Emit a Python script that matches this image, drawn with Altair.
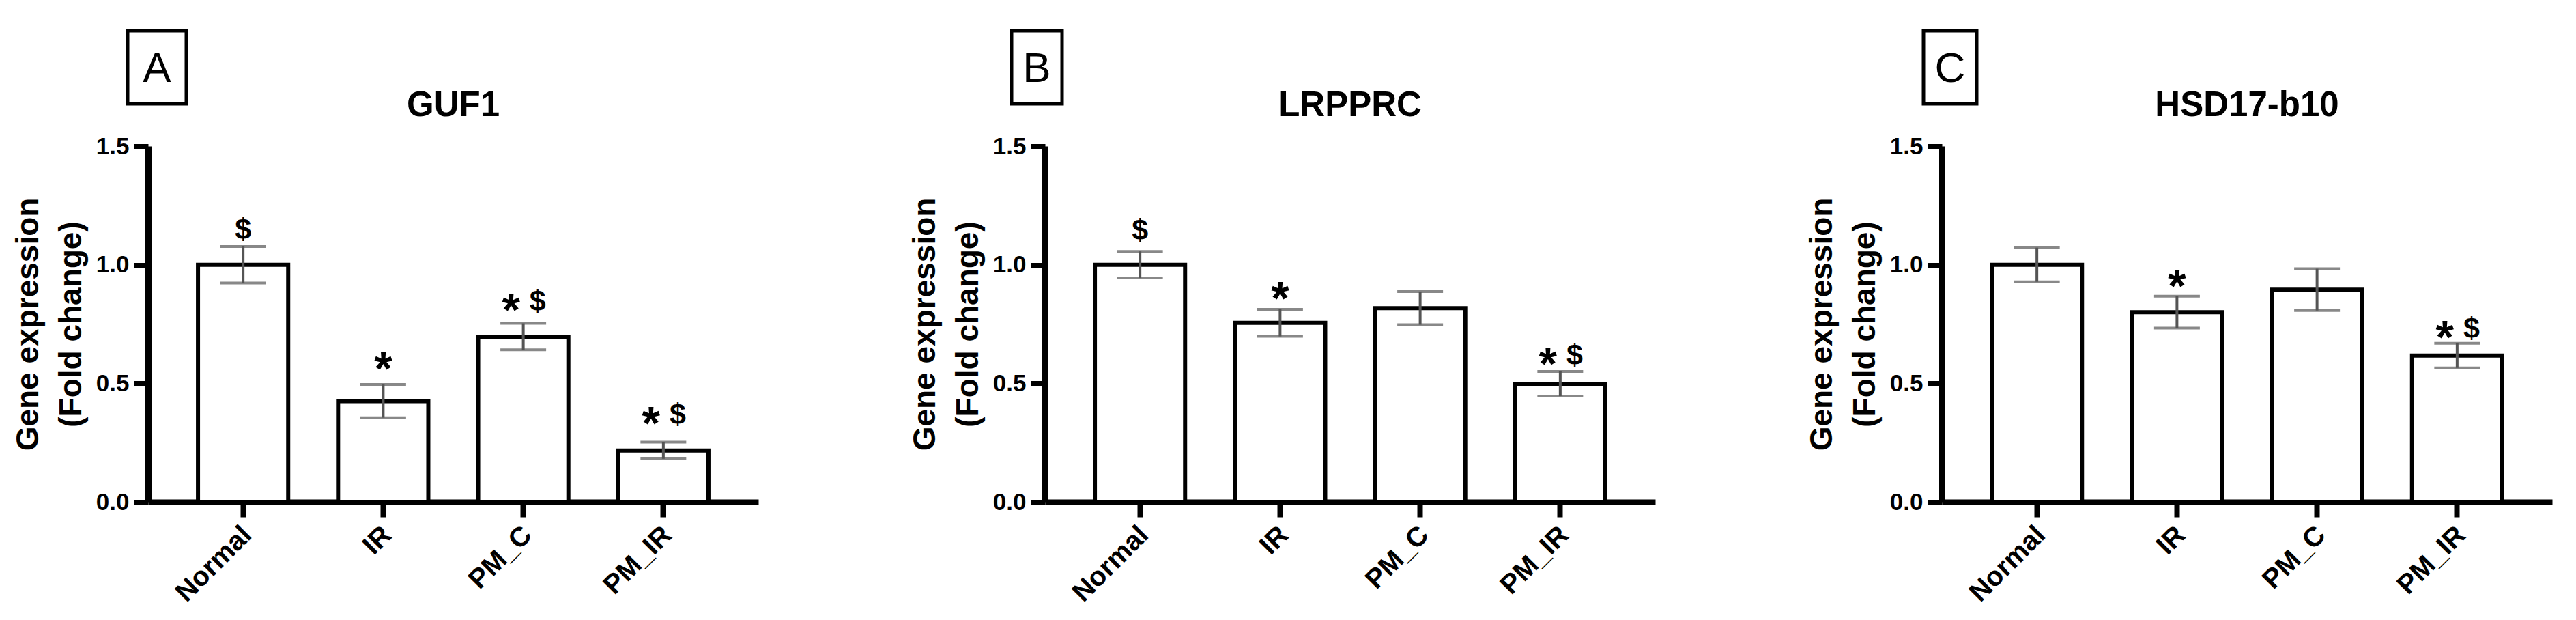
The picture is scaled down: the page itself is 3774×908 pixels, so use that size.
import altair as alt
import pandas as pd

# ---------------- data ----------------
groups = ["Normal", "IR", "PM_C", "PM_IR"]
genes = ["GUF1", "LRPPRC", "HSD17-b10"]
panel_letters = ["A", "B", "C"]

guf1_mean = [1.0, 0.425, 0.697, 0.217]
guf1_sem = [0.077, 0.070, 0.056, 0.035]
lrpprc_mean = [1.0, 0.755, 0.817, 0.498]
lrpprc_sem = [0.056, 0.057, 0.070, 0.052]
hsd_mean = [1.0, 0.800, 0.895, 0.617]
hsd_sem = [0.072, 0.067, 0.088, 0.052]

guf1_sig = ["$", "*", "* $", "* $"]
lrpprc_sig = ["$", "*", "", "* $"]
hsd_sig = ["", "*", "", "* $"]
guf1_sig_y = [1.153, 0.603, 0.85, 0.37]
lrpprc_sig_y = [1.15, 0.897, None, 0.622]
hsd_sig_y = [None, 0.95, None, 0.733]

y_ticks = [0.0, 0.5, 1.0, 1.5]
y_title = ["Gene expression", "(Fold change)"]

# ---------------- layout / style ----------------
W, H, SPACING = 894, 521, 420
FONT = "Liberation Sans, Arial, sans-serif"
ERR = "#555555"
box_x = [(-30, 56), (-49, 25), (-27, 51)]
BOX_Y = (-169, -62)


def panel(i, mean, sem, sig, sig_y):
    df = pd.DataFrame({"group": groups, "mean": mean, "sem": sem})
    df["lo"] = df["mean"] - df["sem"]
    df["hi"] = df["mean"] + df["sem"]

    xs = alt.Scale(domain=groups, paddingInner=0.356, paddingOuter=0.356)
    ys = alt.Scale(domain=[0, 1.5], nice=False, zero=True)

    x_axis = alt.Axis(title=None, labelAngle=-45, labelAlign="right",
                      labelBaseline="middle", labelPadding=20, labelOffset=6,
                      labelFontSize=40, tickSize=22, tickWidth=8, domainWidth=8)
    y_axis = alt.Axis(values=y_ticks, format=".1f", title=y_title,
                      titleX=-162, titleY=H / 2, titleBaseline="alphabetic",
                      titleAngle=-90, titleAlign="center", titleLineHeight=63,
                      titleFontSize=46, labelFontSize=35, labelPadding=7,
                      tickSize=21, tickWidth=7, domainWidth=9)

    def X():
        return alt.X("group:N", sort=groups, scale=xs, axis=x_axis)

    def Y(field):
        return alt.Y(field, scale=ys, axis=y_axis)

    base = alt.Chart(df)
    bars = base.mark_bar(fill="white", stroke="black", strokeWidth=6).encode(
        x=X(), y=Y("mean:Q"))
    rule = base.mark_rule(color=ERR, strokeWidth=4).encode(
        x=X(), y=Y("lo:Q"), y2="hi:Q")
    cap_lo = base.mark_tick(color=ERR, thickness=4, size=67).encode(
        x=X(), y=Y("lo:Q"))
    cap_hi = base.mark_tick(color=ERR, thickness=4, size=67).encode(
        x=X(), y=Y("hi:Q"))

    rows = []
    for g, s, yy in zip(groups, sig, sig_y):
        if not s or yy is None:
            continue
        has_star = "*" in s
        has_dol = "$" in s
        pair = has_star and has_dol
        if has_star:
            rows.append({"group": g, "y": yy, "t": "*", "kind": "star_pair" if pair else "star"})
        if has_dol:
            rows.append({"group": g, "y": yy, "t": "$", "kind": "dol_pair" if pair else "dol"})
    ann = pd.DataFrame(rows)
    abase = alt.Chart(ann)
    ann_layers = []
    specs = {"star": (0, 68, 37), "star_pair": (-18, 68, 37),
             "dol": (0, 43, 15), "dol_pair": (21, 43, 15)}
    for kind, (dx, fs, dy) in specs.items():
        if (ann["kind"] == kind).any():
            ann_layers.append(
                abase.transform_filter(alt.datum.kind == kind)
                .mark_text(font=FONT, fontWeight="bold", fontSize=fs, dx=dx, dy=dy,
                           baseline="alphabetic", align="center", color="black")
                .encode(x=X(), y=Y("y:Q"), text="t:N")
            )

    one = alt.Chart(pd.DataFrame({"gene": [genes[i]], "letter": [panel_letters[i]]}))
    title = one.mark_text(font=FONT, fontWeight="bold", fontSize=51,
                          baseline="alphabetic", align="center", color="black").encode(
        x=alt.value(W / 2), y=alt.value(-44), text="gene:N")
    bx0, bx1 = box_x[i]
    box = one.mark_rect(fill="white", stroke="black", strokeWidth=5).encode(
        x=alt.value(bx0), x2=alt.value(bx1), y=alt.value(BOX_Y[0]), y2=alt.value(BOX_Y[1]))
    letter = one.mark_text(font=FONT, fontWeight="normal", fontSize=62,
                           baseline="alphabetic", align="center", color="black").encode(
        x=alt.value((bx0 + bx1) / 2), y=alt.value(-94), text="letter:N")

    layers = [bars, rule, cap_lo, cap_hi] + ann_layers + [title, box, letter]
    if i == 0:
        anchor = one.mark_rect(opacity=0).encode(
            x=alt.value(-204), x2=alt.value(-200), y=alt.value(-201), y2=alt.value(-197))
        layers.append(anchor)
    return alt.layer(*layers).properties(width=W, height=H)


pA = panel(0, guf1_mean, guf1_sem, guf1_sig, guf1_sig_y)
pB = panel(1, lrpprc_mean, lrpprc_sem, lrpprc_sig, lrpprc_sig_y)
pC = panel(2, hsd_mean, hsd_sem, hsd_sig, hsd_sig_y)

chart = (
    alt.hconcat(pA, pB, pC, spacing=SPACING, bounds="flush")
    .properties(background="white")
    .configure_view(stroke=None)
    .configure_axis(grid=False, domainColor="black", tickColor="black",
                    labelColor="black", titleColor="black",
                    labelFont=FONT, titleFont=FONT,
                    labelFontWeight="bold", titleFontWeight="bold")
)

chart.save("out.html", embed_options={"renderer": "svg", "actions": False})
